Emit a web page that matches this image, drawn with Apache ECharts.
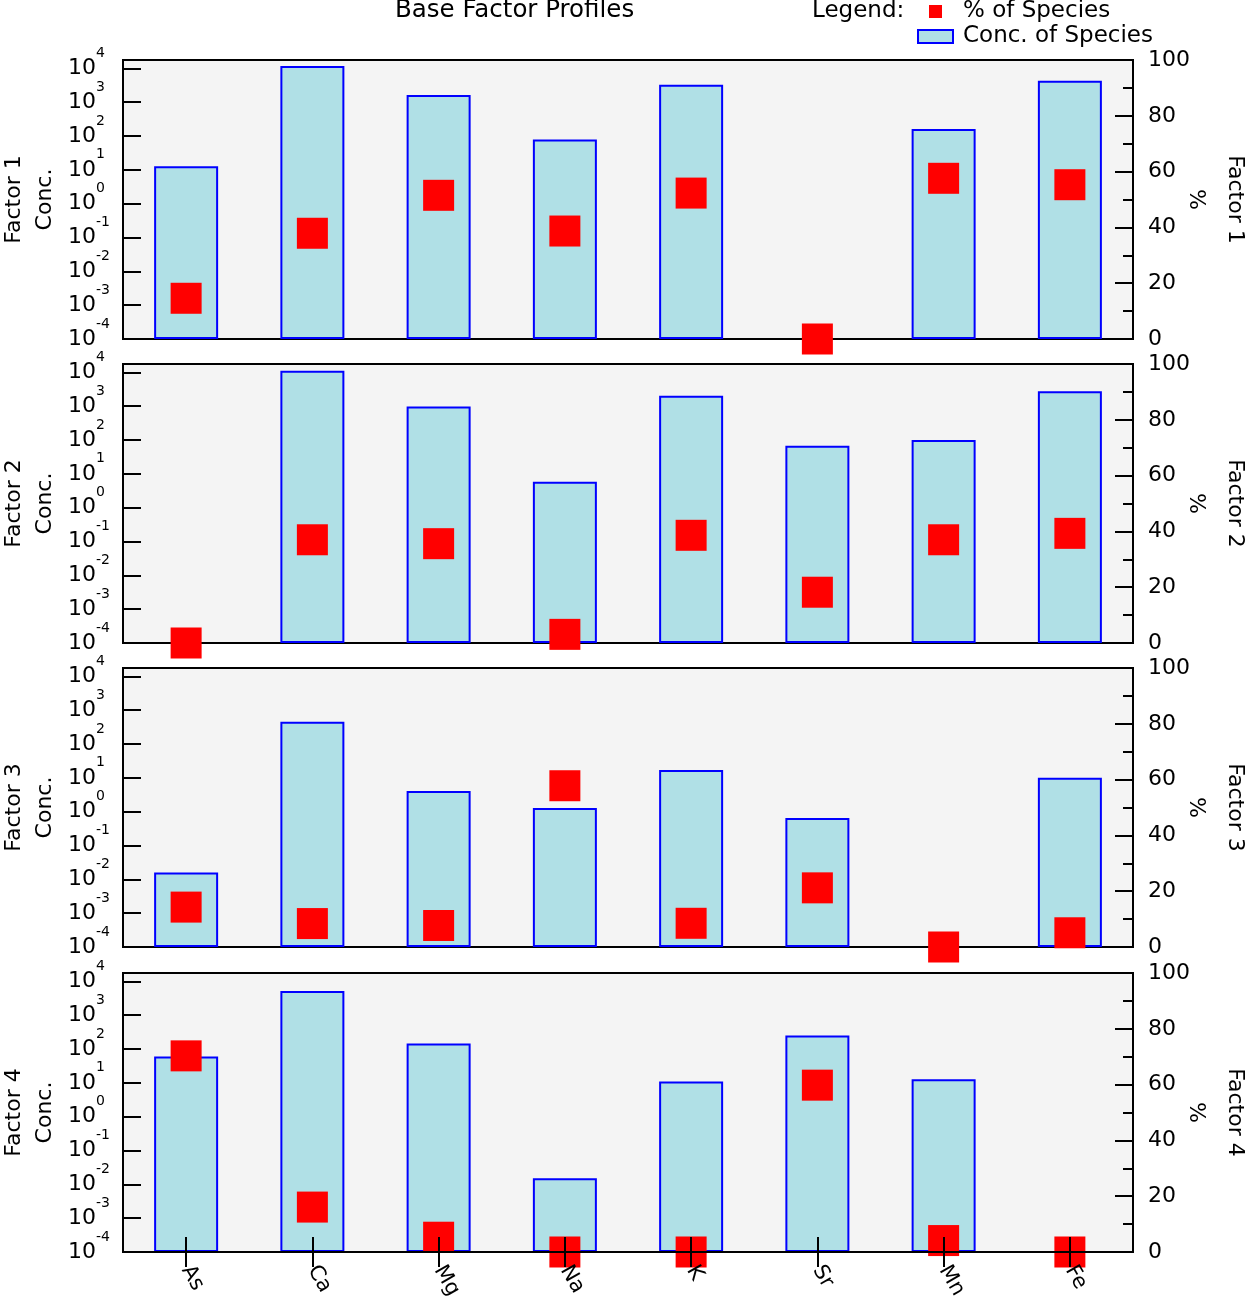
<!DOCTYPE html>
<html>
<head>
<meta charset="utf-8">
<script src="https://cdn.jsdelivr.net/npm/echarts@6/dist/echarts.min.js"></script>
<style>
  html, body { margin: 0; padding: 0; background: #fff; }
  #chart { width: 1250px; height: 1302px; }
</style>
</head>
<body>
<div id="chart"></div>
<script>
// 物种（横轴类别）
const species = ['As', 'Ca', 'Mg', 'Na', 'K', 'Sr', 'Mn', 'Fe'];

// 各因子浓度（对数轴），null = 无柱
const concFactor1 = [12.7, 11700, 1620, 79, 3260, null, 162, 4270];
const concFactor2 = [null, 11200, 980, 5.8, 2040, 67, 100, 2750];
const concFactor3 = [0.016, 455, 4.1, 1.29, 17, 0.65, null, 10];
const concFactor4 = [60, 5200, 146, 0.015, 11, 250, 12.7, null];

// 各因子物种百分比（右轴 %）
const pctFactor1 = [14.6, 37.9, 51.5, 38.7, 52.3, 0, 57.6, 55.3];
const pctFactor2 = [0, 37.0, 35.6, 3.1, 38.6, 18.2, 37.0, 39.3];
const pctFactor3 = [14.3, 8.4, 7.7, 57.8, 8.5, 21.2, 0, 5.1];
const pctFactor4 = [70.3, 16.1, 5.3, 0, 0, 59.8, 4.1, 0];

const factorNames = ['Factor 1', 'Factor 2', 'Factor 3', 'Factor 4'];
const concList = [concFactor1, concFactor2, concFactor3, concFactor4];
const pctList = [pctFactor1, pctFactor2, pctFactor3, pctFactor4];

const FONT = 'DejaVu Sans';
const panelTops = [60, 364, 668, 973];
const panelHeight = 279;
const tickLine = { color: '#000', width: 2 };

const chart = echarts.init(document.getElementById('chart'));

const grid = [];
const xAxis = [];
const yAxis = [];
const series = [];

function panelGrid(top, show) {
  return {
    left: 123,
    right: 117,
    top: top,
    height: panelHeight,
    containLabel: false,
    outerBoundsMode: 'none',
    show: show,
    backgroundColor: '#f4f4f4',
    borderColor: '#000',
    borderWidth: 2
  };
}

panelTops.forEach((top, i) => {
  const isLast = i === panelTops.length - 1;

  grid.push(panelGrid(top, true));

  xAxis.push({
    type: 'category',
    gridIndex: i,
    data: species,
    z: 6,
    axisLine: { show: false },
    axisTick: {
      show: isLast,
      inside: false,
      length: 15,
      alignWithLabel: true,
      lineStyle: tickLine
    },
    axisLabel: {
      show: isLast,
      interval: 0,
      rotate: -60,
      margin: 15,
      color: '#000',
      fontFamily: FONT,
      fontSize: 21
    },
    splitLine: { show: false }
  });

  // 左轴：浓度（对数）；min 略小于 1e-4，让 10^-4 作为普通刻度显示
  yAxis.push({
    type: 'log',
    gridIndex: i,
    position: 'left',
    logBase: 10,
    min: 0.0000999,
    max: 17600,
    startValue: 1e-4,
    name: factorNames[i] + '\nConc.',
    nameLocation: 'middle',
    nameRotate: 90,
    nameGap: 62,
    nameMoveOverlap: false,
    nameTextStyle: { color: '#000', fontFamily: FONT, fontSize: 22, lineHeight: 31 },
    axisLine: { show: false },
    axisTick: { show: true, inside: true, length: 18, lineStyle: tickLine },
    splitLine: { show: false },
    axisLabel: {
      align: 'left',
      margin: 55,
      showMinLabel: false,
      showMaxLabel: false,
      hideOverlap: false,
      color: '#000',
      fontFamily: FONT,
      formatter: v => '{b|10}{s|' + Math.round(Math.log10(v)) + '}',
      rich: {
        b: { fontSize: 22, lineHeight: 44, fontFamily: FONT, color: '#000', verticalAlign: 'middle' },
        s: { fontSize: 14, lineHeight: 14, fontFamily: FONT, color: '#000', verticalAlign: 'top' }
      }
    }
  });

  // 右轴：百分比
  yAxis.push({
    type: 'value',
    gridIndex: i,
    position: 'right',
    min: 0,
    max: 100,
    interval: 20,
    name: factorNames[i] + '\n%',
    nameLocation: 'middle',
    nameRotate: -90,
    nameGap: 43,
    nameMoveOverlap: false,
    nameTextStyle: { color: '#000', fontFamily: FONT, fontSize: 22, lineHeight: 39 },
    axisLine: { show: false },
    axisTick: { show: true, inside: true, length: 18, lineStyle: tickLine },
    minorTick: { show: true, splitNumber: 2, length: 10, lineStyle: tickLine },
    splitLine: { show: false },
    minorSplitLine: { show: false },
    axisLabel: { margin: 15, color: '#000', fontFamily: FONT, fontSize: 22 }
  });

  series.push({
    name: 'Conc. of Species',
    type: 'bar',
    xAxisIndex: i,
    yAxisIndex: i * 2,
    barWidth: 64,
    itemStyle: { color: '#b0e0e6', borderColor: '#0000ff', borderWidth: 2 },
    data: concList[i]
  });

  series.push({
    name: '% of Species',
    type: 'scatter',
    xAxisIndex: i,
    yAxisIndex: i * 2 + 1,
    symbol: 'rect',
    symbolSize: 31,
    clip: false,
    z: 5,
    itemStyle: { color: '#ff0000', opacity: 1 },
    data: pctList[i]
  });
});

// 底部面板：内侧刻度 + 压在方块上的底边线
grid.push(panelGrid(panelTops[3], false));
xAxis.push({
  type: 'category',
  gridIndex: 4,
  data: species,
  z: 6,
  axisLine: { show: true, lineStyle: { color: '#000', width: 2 } },
  axisTick: { show: true, inside: true, length: 15, alignWithLabel: true, lineStyle: tickLine },
  axisLabel: { show: false },
  splitLine: { show: false }
});
yAxis.push({ type: 'value', gridIndex: 4, show: false });

const option = {
  animation: false,
  backgroundColor: '#fff',
  title: [
    {
      text: 'Base Factor Profiles',
      left: 395,
      top: -2,
      padding: 0,
      textStyle: { color: '#000', fontFamily: FONT, fontSize: 24.5, fontWeight: 'normal' }
    },
    {
      text: 'Legend:',
      left: 812,
      top: 0,
      padding: 0,
      textStyle: { color: '#000', fontFamily: FONT, fontSize: 23, fontWeight: 'normal' }
    }
  ],
  legend: {
    orient: 'vertical',
    left: 917,
    top: 0,
    padding: 0,
    itemWidth: 35,
    itemHeight: 13,
    itemGap: 2,
    selectedMode: false,
    textStyle: { color: '#000', fontFamily: FONT, fontSize: 23, padding: [0, 0, 0, 5] },
    data: [
      { name: '% of Species', icon: 'path://M0,0H10V10H0Z' },
      { name: 'Conc. of Species', icon: 'rect' }
    ]
  },
  grid: grid,
  xAxis: xAxis,
  yAxis: yAxis,
  series: series
};

chart.setOption(option);
</script>
</body>
</html>
